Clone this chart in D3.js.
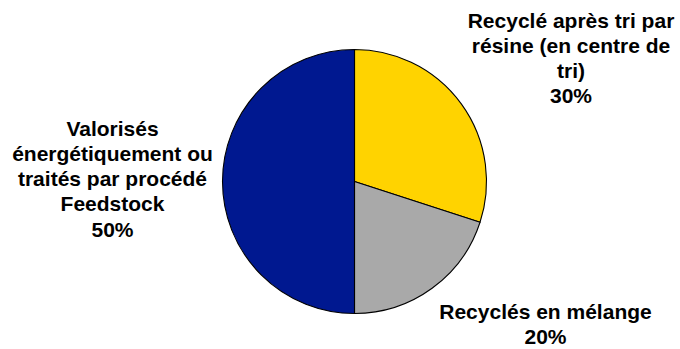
<!DOCTYPE html>
<html>
<head>
<meta charset="utf-8">
<script src="https://cdn.jsdelivr.net/npm/d3@7"></script>
<style>
html, body { margin: 0; padding: 0; background: #fff; }
svg { display: block; }
text { font-family: "Liberation Sans", Arial, Helvetica, sans-serif; font-weight: bold; font-size: 21px; fill: #000; }
</style>
</head>
<body>
<svg id="chart" width="680" height="349"></svg>
<script>
// Data
const categories = [
  "Recyclé après tri par résine (en centre de tri)",
  "Recyclés en mélange",
  "Valorisés énergétiquement ou traités par procédé Feedstock"
];
const values = [30, 20, 50];
const labelLines = [
  ["Recyclé après tri par", "résine (en centre de", "tri)", "30%"],
  ["Recyclés en mélange", "20%"],
  ["Valorisés", "énergétiquement ou", "traités par procédé", "Feedstock", "50%"]
];
const colors = ["#FFD300", "#A9A9A9", "#001890"];

// Layout (styles / positions)
const W = 680, H = 349;
const cx = 354.5, cy = 181.5, R = 132;
const lineH = 25.3;
// first-baseline positions of each label block
const labelAnchor = [
  {x: 571, y: 27.5},
  {x: 545.5, y: 318.5},
  {x: 112.5, y: 135.5}
];

const svg = d3.select("#chart");
const g = svg.append("g").attr("transform", `translate(${cx},${cy})`);

const pie = d3.pie().sort(null).value(d => d)(values);
const arc = d3.arc().innerRadius(0).outerRadius(R);

g.selectAll("path.slice")
  .data(pie)
  .join("path")
  .attr("class", "slice")
  .attr("d", arc)
  .attr("fill", (d, i) => colors[i])
  .attr("stroke", "#000")
  .attr("stroke-width", 1.1)
  .attr("stroke-linejoin", "round");

const labels = svg.selectAll("text.lbl")
  .data(labelLines)
  .join("text")
  .attr("class", "lbl")
  .attr("text-anchor", "middle")
  .attr("x", (d, i) => labelAnchor[i].x)
  .attr("y", (d, i) => labelAnchor[i].y);

labels.each(function(lines, i) {
  d3.select(this).selectAll("tspan")
    .data(lines)
    .join("tspan")
    .attr("x", labelAnchor[i].x)
    .attr("dy", (d, j) => j === 0 ? 0 : lineH)
    .text(d => d);
});
</script>
</body>
</html>
